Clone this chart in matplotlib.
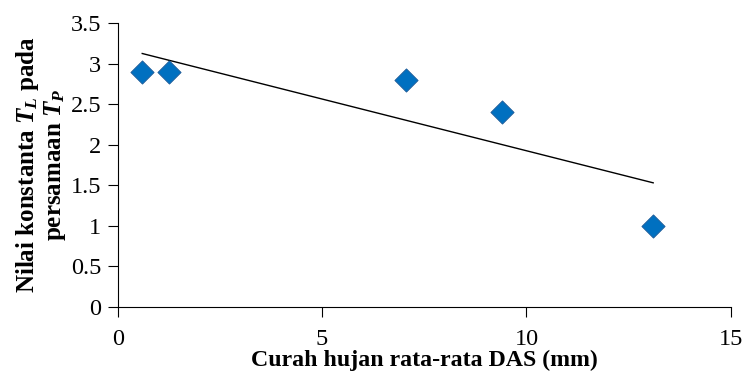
import numpy as np
import matplotlib
matplotlib.use("Agg")
import matplotlib.pyplot as plt

plt.rcParams['font.family'] = ['Liberation Serif', 'DejaVu Serif']
plt.rcParams['mathtext.fontset'] = 'custom'
plt.rcParams['mathtext.it'] = 'Liberation Serif:italic:bold'
plt.rcParams['mathtext.rm'] = 'Liberation Serif:bold'
plt.rcParams['mathtext.bf'] = 'Liberation Serif:bold'

x_vals = [0.6, 1.25, 7.05, 9.4, 13.1]
y_vals = [2.9, 2.9, 2.8, 2.4, 1.0]
x_ticks = [0, 5, 10, 15]
y_ticks = [0, 0.5, 1, 1.5, 2, 2.5, 3, 3.5]
y_tick_labels = ['0', '0.5', '1', '1.5', '2', '2.5', '3', '3.5']

fig = plt.figure(figsize=(7.45, 3.72), dpi=100)
ax = fig.add_axes([0.158, 0.175, 0.823, 0.763])

ax.scatter(x_vals, y_vals, marker='D', s=140, color='#0070C0',
           edgecolors='#1F5A96', linewidths=0.6, zorder=3)

coef = np.polyfit(x_vals, y_vals, 1)
xl = np.array([min(x_vals), max(x_vals)])
ax.plot(xl, np.polyval(coef, xl), color='black', linewidth=1.0, zorder=2)

ax.set_xlim(0, 15)
ax.set_ylim(0, 3.5)
ax.set_xticks(x_ticks)
ax.set_xticklabels([str(t) for t in x_ticks])
ax.set_yticks(y_ticks)
ax.set_yticklabels(y_tick_labels)
ax.tick_params(axis='both', direction='out', length=7, width=0.8, labelsize=17.5)
ax.tick_params(axis='x', pad=9)
ax.tick_params(axis='y', pad=5)
for s in ['top', 'right']:
    ax.spines[s].set_visible(False)
for s in ['left', 'bottom']:
    ax.spines[s].set_linewidth(0.8)

ax.set_xlabel('Curah hujan rata-rata DAS (mm)', fontsize=17.2, fontweight='bold', labelpad=0)
ax.set_ylabel('Nilai konstanta $T_L$ pada\npersamaan $T_P$', fontsize=18,
              fontweight='bold', labelpad=2, linespacing=1.05)

fig.savefig('out.png', dpi=100)
